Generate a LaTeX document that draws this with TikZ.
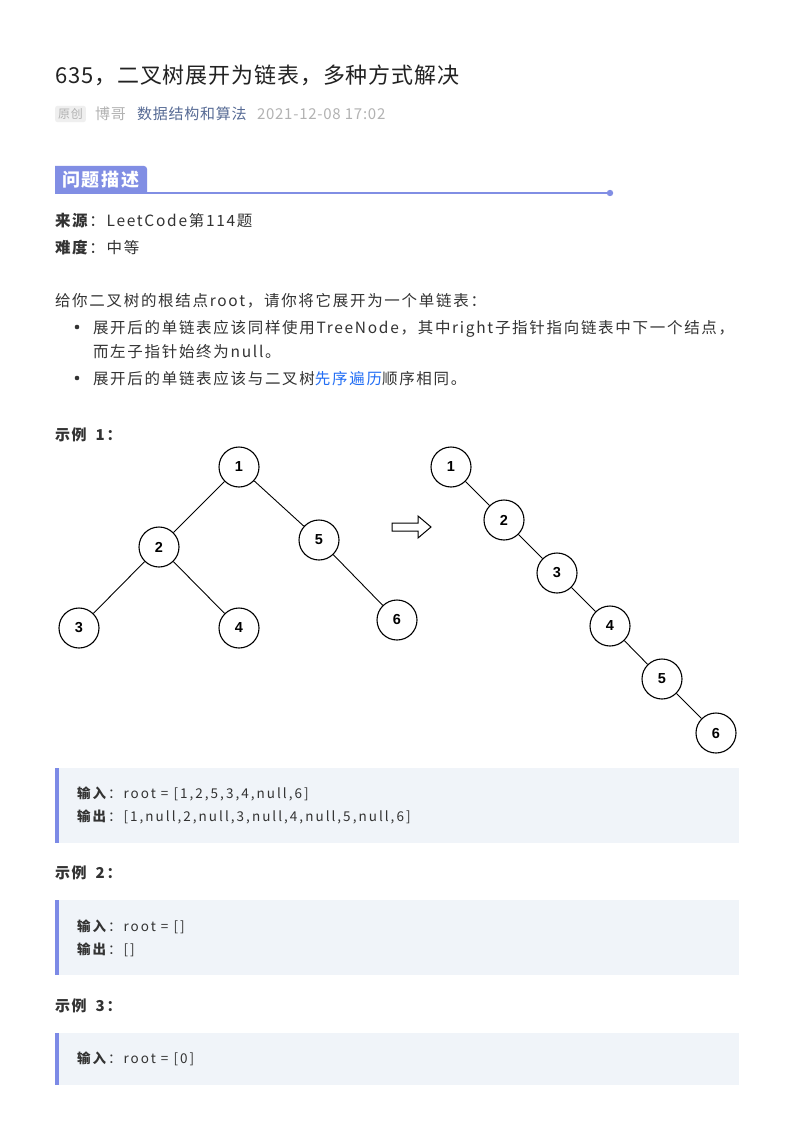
\documentclass[tikz,border=0pt]{standalone}
\usepackage{fontspec}
\setmainfont{Noto Sans CJK SC}[LetterSpace=11]
\newfontfamily\titlefont{Noto Sans CJK SC}[LetterSpace=4]
\newfontfamily\metafont{Noto Sans CJK SC}[LetterSpace=5]
\newfontfamily\codefont{Noto Sans CJK SC}[LetterSpace=15]
\newfontfamily\arialfont{Liberation Sans}
\definecolor{titlec}{RGB}{34,34,34}
\definecolor{textc}{RGB}{51,51,51}
\definecolor{metac}{RGB}{178,178,178}
\definecolor{tagbg}{RGB}{239,239,239}
\definecolor{linkc}{RGB}{87,107,149}
\definecolor{secc}{RGB}{129,142,228}
\definecolor{bluec}{RGB}{34,110,245}
\definecolor{codebg}{RGB}{240,244,249}
\definecolor{barc}{RGB}{124,138,230}
\tikzset{
  txt/.style={inner sep=0, outer sep=0, text=textc, anchor=base west},
  body/.style={txt, font=\fontsize{15.5}{18}\selectfont},
  exlabel/.style={txt, font=\bfseries\fontsize{15}{18}\selectfont},
  meta/.style={txt, text=metac, font=\metafont\fontsize{15}{18}\selectfont},
  code/.style={txt, font=\codefont\fontsize{13.5}{16}\selectfont},
  tn/.style={circle, draw=black, line width=1.1pt, minimum size=40pt, inner sep=0pt, font=\arialfont\bfseries\fontsize{14.5}{16}\selectfont},
  edge/.style={draw=black, line width=0.9pt},
  codebox/.style={fill=codebg},
  codebar/.style={fill=barc},
}
\begin{document}
\begin{tikzpicture}[x=1pt,y=-1pt]
\fill[white] (0,0) rectangle (793,1123);
\useasboundingbox (0,0) rectangle (793,1123);

% title
\node[txt, text=titlec, font=\titlefont\fontsize{22}{26}\selectfont] (title) at (55,84) {635，二叉树展开为链表，多种方式解决};

% meta line
\node[fill=tagbg, text=metac, font=\metafont\fontsize{12}{14}\selectfont, inner xsep=3pt, inner ysep=2.5pt, rounded corners=2pt, anchor=west] (tag) at (55,114) {原创};
\node[meta] (author) at (95,120) {博哥};
\node[meta, text=linkc] (acct) at (137,120) {数据结构和算法};
\node[meta] (date) at (257,120) {2021-12-08 17:02};

% section header
\fill[secc] (55,193) -- (55,166) [rounded corners=3pt] -- (147,166) [sharp corners] -- (147,193) -- cycle;
\node[inner sep=0, text=white, font=\bfseries\fontsize{18}{20}\selectfont, anchor=base] (sec) at (101,187) {问题描述};
\coordinate (secend) at (610,193);
\draw[secc, line width=2pt] (55,193) -- (secend);
\fill[secc] (secend) circle (3.2);

\node[body] (src) at (55,227) {\textbf{来源}：LeetCode第114题};
\node[body] (diff) at (55,254) {\textbf{难度}：中等};

\node[body] (p1) at (55,306) {给你二叉树的根结点root，请你将它展开为一个单链表：};
\fill[textc] (77,327) circle (2.3);
\node[body] (b1) at (93,333) {展开后的单链表应该同样使用TreeNode，其中right子指针指向链表中下一个结点，};
\node[body] (b1b) at (93,357) {而左子指针始终为null。};
\fill[textc] (77,378) circle (2.3);
\node[body] (b2) at (93,384) {展开后的单链表应该与二叉树\textcolor{bluec}{先序遍历}顺序相同。};

\node[exlabel] (ex1) at (55,440) {示例\hspace{4pt} 1：};

% left tree
\node[tn] (a1) at (239,467) {1};
\node[tn] (a2) at (159,547) {2};
\node[tn] (a5) at (319,540) {5};
\node[tn] (a3) at (79,628) {3};
\node[tn] (a4) at (239,628) {4};
\node[tn] (a6) at (397,620) {6};
\draw[edge] (a1) -- (a2);
\draw[edge] (a1) -- (a5);
\draw[edge] (a2) -- (a3);
\draw[edge] (a2) -- (a4);
\draw[edge] (a5) -- (a6);

% hollow arrow
\draw[line width=1pt, fill=white, line join=miter] (392,523) -- (418,523) -- (418,516) -- (431,527) -- (418,538) -- (418,531) -- (392,531) -- cycle;

% right list
\node[tn] (b1n) at (451,467) {1};
\node[tn] (b2n) at (504,520) {2};
\node[tn] (b3n) at (557,573) {3};
\node[tn] (b4n) at (610,626) {4};
\node[tn] (b5n) at (662,679) {5};
\node[tn] (b6n) at (716,733) {6};
\draw[edge] (b1n) -- (b2n);
\draw[edge] (b2n) -- (b3n);
\draw[edge] (b3n) -- (b4n);
\draw[edge] (b4n) -- (b5n);
\draw[edge] (b5n) -- (b6n);

% code block 1
\fill[codebox] (55,768) rectangle (739,843);
\fill[codebar] (55,768) rectangle (59,843);
\node[code] (in1) at (77,798) {\textbf{输入}：root = [1,2,5,3,4,null,6]};
\node[code] (out1) at (77,821) {\textbf{输出}：[1,null,2,null,3,null,4,null,5,null,6]};

\node[exlabel] (ex2) at (55,878) {示例\hspace{4pt} 2：};

% code block 2
\fill[codebox] (55,900) rectangle (739,975);
\fill[codebar] (55,900) rectangle (59,975);
\node[code] (in2) at (77,931) {\textbf{输入}：root = []};
\node[code] (out2) at (77,954) {\textbf{输出}：[]};

\node[exlabel] (ex3) at (55,1011) {示例\hspace{4pt} 3：};

% code block 3
\fill[codebox] (55,1033) rectangle (739,1085);
\fill[codebar] (55,1033) rectangle (59,1085);
\node[code] (in3) at (77,1063) {\textbf{输入}：root = [0]};
\end{tikzpicture}
\end{document}
